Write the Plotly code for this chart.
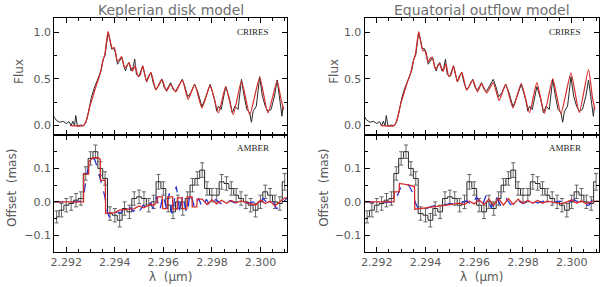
import plotly.graph_objects as go

# ---------------- CRIRES flux (observed, shared by both panels) ----------------
obs_wl = [2.29148, 2.29159, 2.29173, 2.29186, 2.29200, 2.29211, 2.29220, 2.29227, 2.29234, 2.29239,
          2.29246, 2.29257, 2.29271, 2.29281, 2.29292, 2.29303, 2.29314, 2.29325, 2.29336, 2.29344,
          2.29352, 2.29360, 2.29365, 2.29372, 2.29379, 2.29387, 2.29395, 2.29403, 2.29411, 2.29420,
          2.29429, 2.29437, 2.29444, 2.29452, 2.29459, 2.29467, 2.29475, 2.29482, 2.29489, 2.29499,
          2.29507, 2.29515, 2.29523, 2.29531, 2.29539, 2.29549, 2.29558, 2.29569, 2.29580, 2.29594,
          2.29604, 2.29613, 2.29621, 2.29630, 2.29640, 2.29651, 2.29664, 2.29678, 2.29689, 2.29700,
          2.29713, 2.29729, 2.29743, 2.29759, 2.29776, 2.29793, 2.29811, 2.29820, 2.29827, 2.29838,
          2.29857, 2.29873, 2.29884, 2.29895, 2.29908, 2.29922, 2.29933, 2.29944, 2.29956, 2.29963,
          2.29970, 2.29983, 2.29997, 2.30008, 2.30020, 2.30031, 2.30044, 2.30058, 2.30069, 2.30080,
          2.30089, 2.30093]
obs_flux = [0.10, 0.057, 0.036, 0.047, 0.022, 0.043, 0.00, 0.047, 0.00, 0.108,
            -0.007, 0.007, 0.00, 0.036, 0.154, 0.298, 0.394, 0.459, 0.538, 0.595,
            0.71, 0.753, 0.871, 0.996, 0.925, 0.817, 0.825, 0.78, 0.656, 0.692,
            0.728, 0.638, 0.584, 0.656, 0.674, 0.584, 0.62, 0.71, 0.548, 0.523,
            0.584, 0.638, 0.548, 0.466, 0.531, 0.566, 0.459, 0.38, 0.423, 0.495,
            0.405, 0.38, 0.416, 0.459, 0.387, 0.369, 0.43, 0.495, 0.416, 0.308,
            0.351, 0.441, 0.351, 0.201, 0.315, 0.441, 0.28, 0.154, 0.208, 0.172,
            0.416, 0.28, 0.136, 0.208, 0.172, 0.495, 0.315, 0.172, 0.136, 0.036,
            0.154, 0.208, 0.523, 0.315, 0.208, 0.154, 0.172, 0.315, 0.488, 0.28,
            0.10, 0.208]

# ---------------- CRIRES model spectra ----------------
mod_wl = [2.29216, 2.29271, 2.29284, 2.29298, 2.29312, 2.29325, 2.29339, 2.29349, 2.29359, 2.29372,
          2.29382, 2.29390, 2.29398, 2.29410, 2.29420, 2.29428, 2.29440, 2.29450, 2.29458, 2.29472,
          2.29484, 2.29495, 2.29504, 2.29515, 2.29531, 2.29549, 2.29569, 2.29594, 2.29613, 2.29630,
          2.29651, 2.29678, 2.29702, 2.29729, 2.29759, 2.29793, 2.29827, 2.29857, 2.29888, 2.29922,
          2.29956, 2.29997, 2.30031, 2.30069, 2.30085, 2.30096]
kep_flux = [0.0, 0.0, 0.065, 0.215, 0.333, 0.441, 0.548, 0.674, 0.764, 1.007,
            0.889, 0.825, 0.835, 0.692, 0.71, 0.738, 0.62, 0.638, 0.674, 0.584,
            0.638, 0.53, 0.538, 0.638, 0.477, 0.566, 0.387, 0.495, 0.369, 0.441,
            0.359, 0.488, 0.28, 0.441, 0.19, 0.43, 0.136, 0.416, 0.118, 0.477,
            0.118, 0.513, 0.136, 0.477, 0.28, 0.172]
eq_flux = [0.0, 0.0, 0.07, 0.23, 0.35, 0.46, 0.56, 0.68, 0.77, 1.005,
           0.87, 0.80, 0.80, 0.68, 0.72, 0.73, 0.61, 0.63, 0.66, 0.58,
           0.66, 0.53, 0.54, 0.64, 0.47, 0.57, 0.38, 0.49, 0.36, 0.45,
           0.35, 0.46, 0.27, 0.44, 0.19, 0.45, 0.14, 0.46, 0.13, 0.50,
           0.13, 0.56, 0.14, 0.60, 0.30, 0.17]

# ---------------- AMBER offsets (histogram with error bars) ----------------
amb_wl = [round(2.2916 + 0.0002 * i, 4) for i in range(48)]
amb_off = [-0.045, -0.025, -0.01, -0.005, 0.005, 0.01, 0.085, 0.13, 0.15, 0.10,
           0.07, -0.035, -0.04, -0.055, -0.02, -0.03, 0.01, 0.015, 0.01, -0.01,
           0.0, 0.06, 0.04, -0.01, -0.03, 0.0, -0.02, 0.01, 0.05, 0.07,
           0.095, 0.04, 0.02, 0.02, 0.06, 0.055, 0.04, 0.02, 0.01, 0.0,
           -0.01, -0.025, 0.0, 0.03, 0.02, 0.0, -0.005, 0.06]
amb_err = [0.018, 0.02, 0.02, 0.02, 0.02, 0.02, 0.02, 0.02, 0.02, 0.02,
           0.02, 0.02, 0.02, 0.02, 0.02, 0.02, 0.02, 0.02, 0.02, 0.02,
           0.02, 0.022, 0.02, 0.02, 0.02, 0.02, 0.02, 0.02, 0.02, 0.02,
           0.022, 0.02, 0.02, 0.02, 0.022, 0.02, 0.02, 0.02, 0.02, 0.02,
           0.02, 0.02, 0.02, 0.02, 0.02, 0.02, 0.02, 0.025]

# Keplerian disk: binned model (red) and full-resolution model (blue dashed)
kep_bin_wl = [2.2915, 2.29271, 2.29272, 2.29292, 2.29293, 2.29310, 2.29330, 2.29340, 2.29341,
              2.29361, 2.29362, 2.29400, 2.29420, 2.29450, 2.29480, 2.29500, 2.29520, 2.29545,
              2.29560, 2.29575, 2.29576, 2.29596, 2.29597, 2.29617, 2.29618, 2.29638, 2.29639,
              2.29657, 2.29658, 2.29677, 2.29678, 2.29697, 2.29698, 2.29718, 2.29719, 2.29738,
              2.29739, 2.29760, 2.29780, 2.29800, 2.29820, 2.29840, 2.29860, 2.29880, 2.29900,
              2.29920, 2.29940, 2.29960, 2.29980, 2.30000, 2.30020, 2.30040, 2.30060, 2.30080,
              2.30100, 2.30110]
kep_bin_off = [0.0, 0.0, 0.083, 0.083, 0.12, 0.132, 0.132, 0.128, 0.064, 0.064, -0.034, -0.032,
               -0.025, -0.022, -0.02, -0.012, -0.018, -0.008, -0.01, 0.0,
               0.015, 0.015, -0.02, -0.02, 0.015, 0.015, -0.022, -0.022, 0.012, 0.012,
               -0.02, -0.02, 0.015, 0.015, -0.015, -0.015, 0.008, 0.008, -0.008, 0.006,
               -0.006, 0.005, -0.004, 0.004, -0.003, 0.003, -0.002, -0.006, -0.01, 0.005,
               -0.005, 0.002, -0.012, 0.0, 0.012, 0.012]
kep_full_wl = [2.2915, 2.29257, 2.29270, 2.29281, 2.29291, 2.29300, 2.29308, 2.29318, 2.29327,
               2.29338, 2.29349, 2.29359, 2.29368, 2.29379, 2.29390, 2.29401, 2.29412, 2.29422,
               2.29436, 2.29450, 2.29463, 2.29477, 2.29491, 2.29504, 2.29518, 2.29531, 2.29545,
               2.29558, 2.29572, 2.29585, 2.29599, 2.29613, 2.29624, 2.29637, 2.29653, 2.29669,
               2.29680, 2.29696, 2.29712, 2.29729, 2.29745, 2.29761, 2.29777, 2.29794, 2.29815,
               2.29842, 2.29869, 2.29896, 2.29923, 2.29950, 2.29971, 2.29992, 2.30012, 2.30030,
               2.30051, 2.30067, 2.30110]
kep_full_off = [0.0, 0.002, 0.015, 0.064, 0.103, 0.127, 0.132, 0.125, 0.103, 0.074,
                0.044, 0.015, -0.025, -0.046, -0.049, -0.034, -0.029, -0.034, -0.025, -0.032,
                -0.017, -0.029, -0.013, -0.025, -0.01, -0.023, -0.003, -0.02, 0.015, -0.025,
                0.02, -0.02, 0.025, -0.039, 0.046, -0.032, 0.02, -0.034, 0.026, -0.017,
                0.01, -0.017, 0.007, -0.013, 0.007, -0.007, 0.005, -0.003, 0.003, -0.005,
                0.0, -0.01, 0.01, -0.005, 0.003, -0.02, 0.012]

# Equatorial outflow: binned model (red) and full-resolution model (blue dashed)
eq_bin_wl = [2.2915, 2.29271, 2.29272, 2.29292, 2.29293, 2.29335, 2.29355, 2.29356, 2.29400,
             2.29450, 2.29500, 2.29540, 2.29560, 2.29580, 2.29600, 2.29620, 2.29640, 2.29660,
             2.29680, 2.29700, 2.29720, 2.29740, 2.29760, 2.29780, 2.29800, 2.29820, 2.29840,
             2.29860, 2.29880, 2.29900, 2.29920, 2.29940, 2.29960, 2.29980, 2.30000, 2.30020,
             2.30040, 2.30060, 2.30080, 2.30110]
eq_bin_off = [0.0, 0.0, 0.03, 0.03, 0.055, 0.05, 0.045, -0.022, -0.018, -0.012, -0.008, -0.004,
              -0.008, 0.002, -0.006, 0.006, -0.008, 0.008, -0.01, 0.01, -0.01, 0.01, -0.008,
              0.008, -0.005, 0.005, -0.004, 0.004, -0.004, 0.002, 0.0, -0.004, -0.006, 0.0,
              0.006, -0.004, 0.003, -0.006, 0.0, 0.003]
eq_full_wl = [2.2915, 2.29270, 2.29285, 2.29300, 2.29315, 2.29330, 2.29345, 2.29360, 2.29375,
              2.29395, 2.29420, 2.29450, 2.29480, 2.29510, 2.29540, 2.29570, 2.29590, 2.29610,
              2.29630, 2.29650, 2.29670, 2.29690, 2.29710, 2.29730, 2.29750, 2.29775, 2.29800,
              2.29830, 2.29860, 2.29890, 2.29920, 2.29950, 2.29980, 2.30010, 2.30040, 2.30070,
              2.30090, 2.30110]
eq_full_off = [0.0, 0.0, 0.02, 0.045, 0.055, 0.05, 0.03, -0.005, -0.025, -0.022,
               -0.015, -0.01, -0.008, -0.005, -0.003, 0.003, -0.01, 0.015, -0.015, 0.02,
               -0.018, 0.015, -0.012, 0.01, -0.008, 0.006, -0.005, 0.004, -0.003, 0.003,
               -0.003, 0.002, -0.004, 0.006, -0.006, -0.01, 0.012, 0.008]

X_RANGE = [2.2915, 2.3011]
X_TICKS = [2.292, 2.294, 2.296, 2.298, 2.300]

BLACK = "#2a2a2a"
RED = "#d42a2a"
BLUE = "#2530d8"
GRAY = "#5a5a5a"

fig = go.Figure()

def add_panel(col, model_flux, bin_wl, bin_off, full_wl, full_off):
    xa_top = "x" if col == 0 else "x3"
    ya_top = "y" if col == 0 else "y3"
    xa_bot = "x2" if col == 0 else "x4"
    ya_bot = "y2" if col == 0 else "y4"
    fig.add_trace(go.Scatter(x=obs_wl, y=obs_flux, mode="lines",
                             line=dict(color=BLACK, width=1), xaxis=xa_top, yaxis=ya_top))
    fig.add_trace(go.Scatter(x=mod_wl, y=model_flux, mode="lines",
                             line=dict(color=RED, width=1.2, shape="spline", smoothing=0.5),
                             xaxis=xa_top, yaxis=ya_top))
    fig.add_trace(go.Scatter(x=amb_wl, y=amb_off, mode="lines",
                             line=dict(color=BLACK, width=1, shape="hvh"),
                             error_y=dict(type="data", array=amb_err, color="#666666",
                                          thickness=1, width=2),
                             xaxis=xa_bot, yaxis=ya_bot))
    fig.add_trace(go.Scatter(x=full_wl, y=full_off, mode="lines",
                             line=dict(color=BLUE, width=1.3, dash="dash", shape="spline", smoothing=0.35),
                             xaxis=xa_bot, yaxis=ya_bot))
    fig.add_trace(go.Scatter(x=bin_wl, y=bin_off, mode="lines",
                             line=dict(color=RED, width=1.3),
                             xaxis=xa_bot, yaxis=ya_bot))

add_panel(0, kep_flux, kep_bin_wl, kep_bin_off, kep_full_wl, kep_full_off)
add_panel(1, eq_flux, eq_bin_wl, eq_bin_off, eq_full_wl, eq_full_off)

H = 287.0
W = 600.0
top_dom = [1 - 135 / H, 1 - 18 / H]
bot_dom = [1 - 252 / H, 1 - 135 / H]
left_dom = [50.5 / W, 285 / W]
right_dom = [363 / W, 598.5 / W]

tickfont = dict(family="DejaVu Sans", size=11, color=GRAY)

def xaxis(dom, anchor, labels):
    return dict(domain=dom, anchor=anchor, range=X_RANGE, tickvals=X_TICKS,
                ticktext=["2.292", "2.294", "2.296", "2.298", "2.300"],
                showticklabels=labels, ticks="inside", ticklen=5, tickcolor="black",
                showline=True, linecolor="black", linewidth=1, mirror="ticks",
                showgrid=False, zeroline=False, tickfont=tickfont,
                minor=dict(tick0=2.292, dtick=0.0005, ticks="inside", ticklen=3,
                           tickcolor="black", showgrid=False))

def yaxis_top(anchor):
    return dict(domain=top_dom, anchor=anchor, range=[-0.1, 1.15],
                tickvals=[0, 0.5, 1.0], ticktext=["0.0", "0.5", "1.0"],
                ticks="inside", ticklen=5, tickcolor="black",
                showline=True, linecolor="black", linewidth=1, mirror="ticks",
                showgrid=False, zeroline=False, tickfont=tickfont,
                minor=dict(tick0=0, dtick=0.25, ticks="inside", ticklen=3,
                           tickcolor="black", showgrid=False))

def yaxis_bot(anchor):
    return dict(domain=bot_dom, anchor=anchor, range=[-0.15, 0.2],
                tickvals=[-0.1, 0, 0.1], ticktext=["\u22120.1", "0.0", "0.1"],
                ticks="inside", ticklen=5, tickcolor="black",
                showline=True, linecolor="black", linewidth=1, mirror="ticks",
                showgrid=False, zeroline=False, tickfont=tickfont,
                minor=dict(tick0=0, dtick=0.05, ticks="inside", ticklen=3,
                           tickcolor="black", showgrid=False))

fig.update_layout(
    width=600, height=287,
    margin=dict(l=0, r=0, t=0, b=0),
    paper_bgcolor="white", plot_bgcolor="white",
    showlegend=False,
    xaxis=xaxis(left_dom, "y", False),
    yaxis=yaxis_top("x"),
    xaxis2=xaxis(left_dom, "y2", True),
    yaxis2=yaxis_bot("x2"),
    xaxis3=xaxis(right_dom, "y3", False),
    yaxis3=yaxis_top("x3"),
    xaxis4=xaxis(right_dom, "y4", True),
    yaxis4=yaxis_bot("x4"),
)

title_font = dict(family="DejaVu Sans", size=14, color="#707070")
lab_font = dict(family="DejaVu Sans", size=12, color=GRAY)
inst_font = dict(family="Liberation Serif", size=9, color="#222222")

ann = []
for dom, title, ylab_x_top, ylab_x_bot in [
        (left_dom, "Keplerian disk model", 15 / W, 8 / W),
        (right_dom, "Equatorial outflow model", 332 / W, 322 / W)]:
    cx = (dom[0] + dom[1]) / 2
    ann.append(dict(text=title, x=cx, y=1 - 10 / H, xref="paper", yref="paper",
                    showarrow=False, font=title_font, xanchor="center", yanchor="middle"))
    ann.append(dict(text="CRIRES", x=dom[1] - 16 / W, y=1 - 32 / H, xref="paper", yref="paper",
                    showarrow=False, font=inst_font, xanchor="right", yanchor="middle"))
    ann.append(dict(text="AMBER", x=dom[1] - 16 / W, y=1 - 148 / H, xref="paper", yref="paper",
                    showarrow=False, font=inst_font, xanchor="right", yanchor="middle"))
    ann.append(dict(text="Flux", x=ylab_x_top, y=1 - 71 / H, xref="paper", yref="paper",
                    showarrow=False, font=lab_font, textangle=-90,
                    xanchor="center", yanchor="middle"))
    ann.append(dict(text="Offset  (mas)", x=ylab_x_bot, y=1 - 188 / H, xref="paper", yref="paper",
                    showarrow=False, font=lab_font, textangle=-90,
                    xanchor="center", yanchor="middle"))
    ann.append(dict(text="\u03bb  (\u03bcm)", x=cx, y=1 - 277 / H, xref="paper", yref="paper",
                    showarrow=False, font=lab_font, xanchor="center", yanchor="middle"))
fig.update_layout(annotations=ann)

fig.write_html("out.html", config={"displayModeBar": False, "staticPlot": True},
               post_script="document.body.style.margin='0';document.body.style.overflow='hidden';")
